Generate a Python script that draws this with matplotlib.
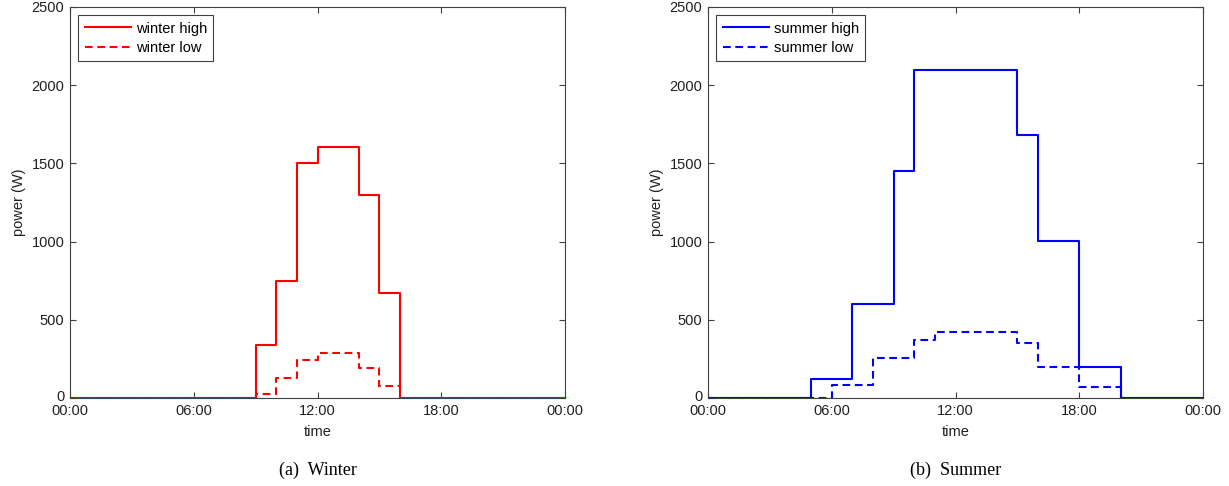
import matplotlib
matplotlib.use("Agg")
import matplotlib.pyplot as plt
import matplotlib.transforms as mtransforms
import numpy as np

# hours 0..24 (step-post, value held for each hour)
hours = list(range(25))

winter_high = [0, 0, 0, 0, 0, 0, 0, 0, 0, 340, 750, 1500, 1605, 1605, 1295, 672,
               0, 0, 0, 0, 0, 0, 0, 0, 0]
winter_low = [0, 0, 0, 0, 0, 0, 0, 0, 0, 25, 130, 243, 287, 287, 192, 77,
              0, 0, 0, 0, 0, 0, 0, 0, 0]
summer_high = [0, 0, 0, 0, 0, 120, 120, 600, 600, 1450, 2100, 2100, 2100, 2100, 2100,
               1683, 1002, 1002, 200, 200, 0, 0, 0, 0, 0]
summer_low = [0, 0, 0, 0, 0, 0, 83, 83, 253, 253, 370, 422, 422, 422, 422, 352,
              200, 200, 73, 73, 0, 0, 0, 0, 0]

xtick_pos = [0, 6, 12, 18, 24]
xtick_labels = ["00:00", "06:00", "12:00", "18:00", "00:00"]
ytick_vals = [0, 500, 1000, 1500, 2000, 2500]

plt.rcParams['font.family'] = ['Liberation Sans', 'DejaVu Sans']

fig = plt.figure(figsize=(12.29, 4.86), dpi=100)
W, H = 1229, 486

def make_axes(x0, x1, y_top, y_bot):
    return fig.add_axes([x0 / W, (H - y_bot) / H, (x1 - x0) / W, (y_bot - y_top) / H])

ax1 = make_axes(70, 565, 7, 398)
ax2 = make_axes(708, 1203, 7, 398)

FS = 10.5

def style(ax):
    ax.set_xlim(0, 24)
    ax.set_ylim(0, 2500)
    ax.set_xticks(xtick_pos)
    ax.set_xticklabels(xtick_labels)
    ax.set_yticks(ytick_vals)
    ax.tick_params(direction='in', length=4.5, width=0.8, color='#404040',
                   top=True, right=True, labelsize=FS, labelcolor='#202020')
    ax.tick_params(axis='x', pad=4)
    ax.tick_params(axis='y', pad=4)
    for s in ax.spines.values():
        s.set_color('#404040')
        s.set_linewidth(0.8)
    ax.set_xlabel('time', fontsize=FS, color='#202020', labelpad=5)
    ax.set_ylabel('power (W)', fontsize=FS, color='#202020', labelpad=4)
    # nudge the "0" y tick label up slightly (as in the reference)
    lab0 = ax.get_yticklabels()[0]
    lab0.set_transform(lab0.get_transform() +
                       mtransforms.ScaledTranslation(0, 3 / 100, fig.dpi_scale_trans))

ax1.plot(hours, winter_high, drawstyle='steps-post', color='#ff0000', lw=1.5,
         label='winter high')
ax1.plot(hours, winter_low, drawstyle='steps-post', color='#ff0000', lw=1.5,
         ls='--', dashes=(3.7, 2.2), label='winter low')
ax2.plot(hours, summer_high, drawstyle='steps-post', color='#0000ff', lw=1.5,
         label='summer high')
ax2.plot(hours, summer_low, drawstyle='steps-post', color='#0000ff', lw=1.5,
         ls='--', dashes=(3.7, 2.2), label='summer low')

for ax in (ax1, ax2):
    style(ax)
    leg = ax.legend(loc='upper left', fontsize=FS, frameon=True, fancybox=False,
                    handlelength=3.2, handletextpad=0.3, borderpad=0.45,
                    labelspacing=0.35, borderaxespad=0.55)
    leg.get_frame().set_edgecolor('#404040')
    leg.get_frame().set_linewidth(0.8)
    leg.get_frame().set_alpha(1)

fig.text((70 + 565) / 2 / W, 1 - 470 / H, '(a)  Winter', ha='center', va='center',
         fontsize=13, family=['Liberation Serif', 'DejaVu Serif'])
fig.text((708 + 1203) / 2 / W, 1 - 470 / H, '(b)  Summer', ha='center', va='center',
         fontsize=13, family=['Liberation Serif', 'DejaVu Serif'])

fig.savefig('out.png', dpi=100)
